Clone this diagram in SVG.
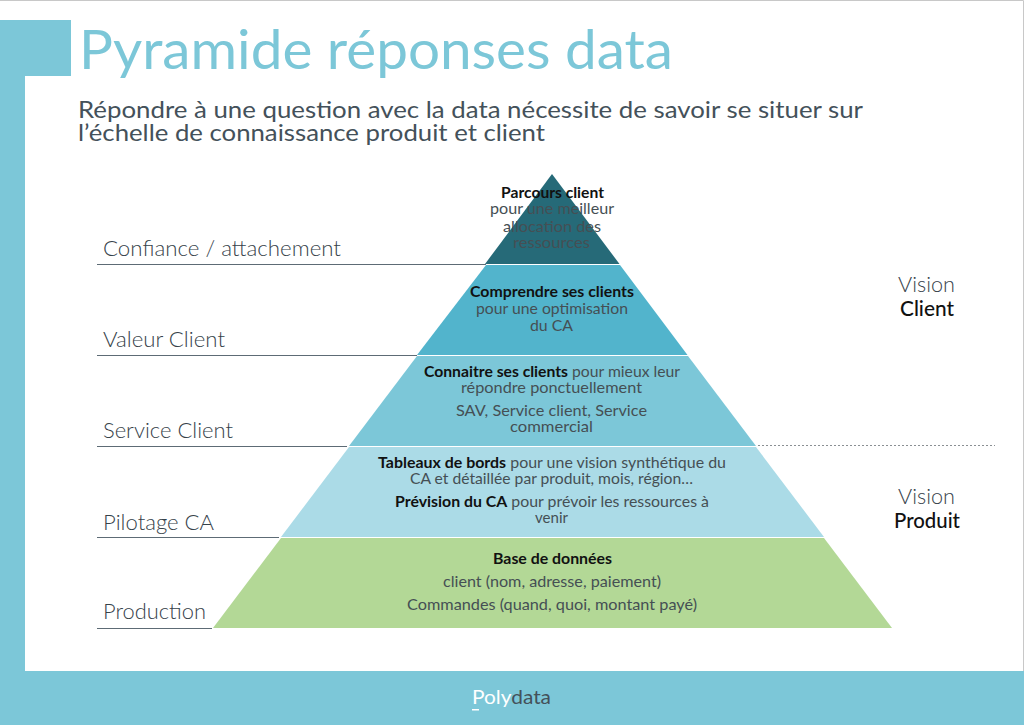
<svg xmlns="http://www.w3.org/2000/svg" width="1024" height="725" viewBox="0 0 1024 725">
<style>
.f{font-family:"Lato","Noto Sans",sans-serif}
.p{font-family:"Lato","Noto Sans",sans-serif;font-size:15px;font-weight:400;fill:#454f54}
.p .b{font-weight:700;fill:#111}
.pb{font-family:"Lato","Noto Sans",sans-serif;font-size:15px;font-weight:700;fill:#111}
.side{font-family:"Lato","Noto Sans",sans-serif;font-size:21px;font-weight:300;fill:#36424a}
.vis{font-family:"Lato","Noto Sans",sans-serif;font-size:21px;font-weight:300;fill:#36424a}
.visb{font-family:"Lato","Noto Sans",sans-serif;font-size:21px;font-weight:500;fill:#111}
.lead{stroke:#5d6b75;stroke-width:1;fill:none}
</style>
<rect width="1024" height="725" fill="#fff"/>
<g id="frame" fill="#7cc7d8">
<rect x="0" y="20" width="71" height="56"/>
<rect x="0" y="76" width="25" height="600"/>
<rect x="0" y="671" width="1024" height="54"/>
</g>
<path d="M0 .5H1023.500V671" fill="none" stroke="#c8c8c8" stroke-width="1"/>
<text class="f" x="79" y="69" font-size="54" font-weight="400" fill="#7cc7d8" textLength="594" lengthAdjust="spacingAndGlyphs">Pyramide réponses data</text>
<text class="f" x="78" y="118" font-size="23" fill="#44515a" font-weight="400" textLength="785" lengthAdjust="spacingAndGlyphs">Répondre à une question avec la data nécessite de savoir se situer sur</text>
<text class="f" x="78" y="141" font-size="23" fill="#44515a" font-weight="400" textLength="467" lengthAdjust="spacingAndGlyphs">l’échelle de connaissance produit et client</text>
<g id="connectors">
<path class="lead" d="M97 264.500H486M97 355.500H417M97 446.500H347M97 537.500H279M97 628.500H212"/>
<path d="M758 445.500H995" stroke="#8a8f93" stroke-width="1" stroke-dasharray="2 2" fill="none"/>
</g>
<g id="level-5">
<polygon points="552,174 619.500,264 485,264" fill="#266a78"/>
<text class="pb" x="501" y="198" textLength="103" lengthAdjust="spacingAndGlyphs">Parcours client</text>
<text class="p" x="490" y="214" textLength="124" lengthAdjust="spacingAndGlyphs">pour une meilleur</text>
<text class="p" x="503" y="232" textLength="98" lengthAdjust="spacingAndGlyphs">allocation des</text>
<text class="p" x="513" y="248" textLength="77" lengthAdjust="spacingAndGlyphs">ressources</text>
</g>
<g id="level-4">
<polygon points="486,265 620,265 687.500,355 417,355" fill="#52b4cc"/>
<text class="pb" x="470" y="297" textLength="164" lengthAdjust="spacingAndGlyphs">Comprendre ses clients</text>
<text class="p" x="476" y="314" textLength="152" lengthAdjust="spacingAndGlyphs">pour une optimisation</text>
<text class="p" x="530" y="331" textLength="43" lengthAdjust="spacingAndGlyphs">du CA</text>
</g>
<g id="level-3">
<polygon points="417,356 688,356 756,446 349,446" fill="#7cc7d8"/>
<text class="p" x="424" y="377" textLength="256" lengthAdjust="spacingAndGlyphs"><tspan class="b">Connaitre ses clients</tspan> pour mieux leur</text>
<text class="p" x="461" y="393" textLength="181" lengthAdjust="spacingAndGlyphs">répondre ponctuellement</text>
<text class="p" x="456" y="416" textLength="191" lengthAdjust="spacingAndGlyphs">SAV, Service client, Service</text>
<text class="p" x="510" y="432" textLength="83" lengthAdjust="spacingAndGlyphs">commercial</text>
</g>
<g id="level-2">
<polygon points="349,447 756,447 824,537 281,537" fill="#abdbe7"/>
<text class="p" x="378" y="468" textLength="348" lengthAdjust="spacingAndGlyphs"><tspan class="b">Tableaux de bords</tspan> pour une vision synthétique du</text>
<text class="p" x="410" y="484" textLength="283" lengthAdjust="spacingAndGlyphs">CA et détaillée par produit, mois, région…</text>
<text class="p" x="395" y="507" textLength="314" lengthAdjust="spacingAndGlyphs"><tspan class="b">Prévision du CA</tspan> pour prévoir les ressources à</text>
<text class="p" x="535" y="523" textLength="33" lengthAdjust="spacingAndGlyphs">venir</text>
</g>
<g id="level-1">
<polygon points="281,538 824,538 892,628 213,628" fill="#b3d896"/>
<text class="pb" x="493" y="564" textLength="119" lengthAdjust="spacingAndGlyphs">Base de données</text>
<text class="p" x="443" y="587" textLength="218" lengthAdjust="spacingAndGlyphs">client (nom, adresse, paiement)</text>
<text class="p" x="407" y="610" textLength="290" lengthAdjust="spacingAndGlyphs">Commandes (quand, quoi, montant payé)</text>
</g>
<g id="labels">
<text class="side" x="103" y="256" textLength="238" lengthAdjust="spacingAndGlyphs">Confiance / attachement</text>
<text class="side" x="103" y="347" textLength="122" lengthAdjust="spacingAndGlyphs">Valeur Client</text>
<text class="side" x="103" y="438" textLength="130" lengthAdjust="spacingAndGlyphs">Service Client</text>
<text class="side" x="103" y="530" textLength="111" lengthAdjust="spacingAndGlyphs">Pilotage CA</text>
<text class="side" x="103" y="619" textLength="103" lengthAdjust="spacingAndGlyphs">Production</text>
</g>
<g id="vision-client"><text class="vis" x="898" y="292" textLength="57" lengthAdjust="spacingAndGlyphs">Vision</text><text class="visb" x="900" y="316" textLength="54" lengthAdjust="spacingAndGlyphs">Client</text></g>
<g id="vision-produit"><text class="vis" x="898" y="504" textLength="57" lengthAdjust="spacingAndGlyphs">Vision</text><text class="visb" x="894" y="528" textLength="66" lengthAdjust="spacingAndGlyphs">Produit</text></g>
<g id="logo"><text class="f" x="472" y="704" font-size="20" fill="#fff" textLength="79" lengthAdjust="spacingAndGlyphs">Poly<tspan fill="#44515a">data</tspan></text><rect x="472" y="709" width="7" height="1.500" fill="#fff"/></g>
</svg>
